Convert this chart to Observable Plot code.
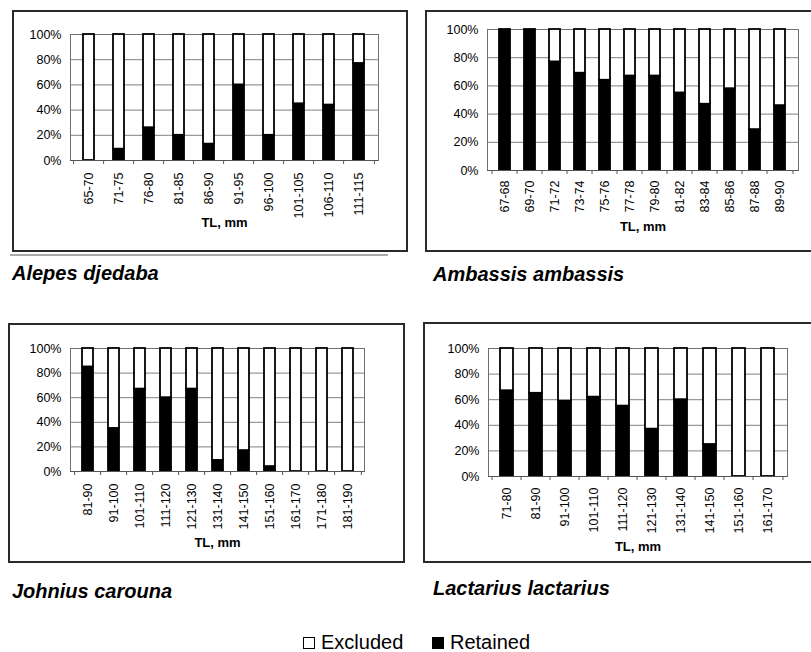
<!DOCTYPE html>
<html>
<head>
<meta charset="utf-8">
<script src="https://cdn.jsdelivr.net/npm/d3@7"></script>
<script src="https://cdn.jsdelivr.net/npm/@observablehq/plot@0.6"></script>
<style>
  html, body { margin: 0; padding: 0; background: #fff; }
  #root { position: relative; width: 811px; height: 652px; overflow: hidden; font-family: "Liberation Sans", Arial, sans-serif; color: #000; }
  .box { position: absolute; border: 2px solid #2a2a2a; box-sizing: border-box; }
  .plot { position: absolute; }
  .title { position: absolute; font-size: 20px; line-height: 20px; font-weight: bold; font-style: italic; white-space: nowrap; }
  .legend { position: absolute; top: 632px; left: 0; width: 811px; height: 22px; font-size: 20px; line-height: 20px; white-space: nowrap; }
  .legend span.item { position: absolute; top: 0; }
  .sw { display: inline-block; width: 12px; height: 12px; box-sizing: border-box; border: 1.5px solid #000; margin-right: 6px; vertical-align: 0px; }
</style>
</head>
<body>
<div id="root"></div>
<script>
// ---------- data ----------
const statuses = ["Excluded", "Retained"];
const axisTitle = "TL, mm";
const pctTicks = [0, 20, 40, 60, 80, 100];

const alepesSizes = ["65-70","71-75","76-80","81-85","86-90","91-95","96-100","101-105","106-110","111-115"];
const alepesRetained = [0, 9, 26, 20, 13, 60, 20, 45, 44, 77];

const ambassisSizes = ["67-68","69-70","71-72","73-74","75-76","77-78","79-80","81-82","83-84","85-86","87-88","89-90"];
const ambassisRetained = [100, 100, 77, 69, 64, 67, 67, 55, 47, 58, 29, 46];

const johniusSizes = ["81-90","91-100","101-110","111-120","121-130","131-140","141-150","151-160","161-170","171-180","181-190"];
const johniusRetained = [85, 35, 67, 60, 67, 9, 17, 4, 0, 0, 0];

const lactariusSizes = ["71-80","81-90","91-100","101-110","111-120","121-130","131-140","141-150","151-160","161-170"];
const lactariusRetained = [67, 65, 59, 62, 55, 37, 60, 25, 0, 0];

// ---------- drawing ----------
const root = document.getElementById("root");

function rowsOf(sizes, retained) {
  const rows = [];
  sizes.forEach((s, i) => {
    rows.push({size: s, status: "Retained", pct: retained[i]});
    rows.push({size: s, status: "Excluded", pct: 100 - retained[i]});
  });
  return rows;
}

function panel(cfg) {
  const box = document.createElement("div");
  box.className = "box";
  Object.assign(box.style, {left: cfg.left + "px", top: cfg.top + "px", width: (cfg.boxWidth || cfg.width) + "px", height: cfg.height + "px"});
  root.appendChild(box);

  const n = cfg.sizes.length;
  const step = (cfg.width - cfg.mL - cfg.mR) / n;
  const last = cfg.sizes[n - 1];

  const chart = Plot.plot({
    width: cfg.width,
    height: cfg.height,
    marginLeft: cfg.mL, marginRight: cfg.mR, marginTop: cfg.mT, marginBottom: cfg.mB,
    style: {fontFamily: '"Liberation Sans", Arial, sans-serif', fontSize: "12.5px", color: "#000", background: "transparent", overflow: "visible"},
    x: {domain: cfg.sizes, paddingInner: cfg.pad, paddingOuter: cfg.pad / 2, axis: null},
    y: {domain: [0, 100], axis: null},
    color: {domain: statuses, range: ["#ffffff", "#000000"]},
    marks: [
      Plot.gridY(pctTicks.slice(1), {stroke: "#808080", strokeOpacity: 1, strokeWidth: 1}),
      Plot.frame({stroke: "#707070", strokeWidth: 1}),
      Plot.barY(rowsOf(cfg.sizes, cfg.retained), {x: "size", y: "pct", fill: "status", stroke: "#000", strokeWidth: 1.8, order: ["Retained", "Excluded"]}),
      Plot.ruleY([0], {stroke: "#555", strokeWidth: 1}),
      Plot.axisY(pctTicks, {tickSize: 0, tickPadding: 9, tickFormat: d => d + "%", fontSize: 12.5, label: null}),
      Plot.axisX(cfg.sizes, {tickSize: 0, tickRotate: -90, tickPadding: cfg.xPad, fontSize: 12.5, label: null}),
      Plot.axisX(cfg.sizes, {tickSize: 4, tickFormat: () => "", dx: -step / 2, stroke: "#555", label: null}),
      Plot.axisX([last], {tickSize: 4, tickFormat: () => "", dx: step / 2, stroke: "#555", label: null}),
      Plot.text([axisTitle], {frameAnchor: "bottom", dy: cfg.tlOffset, fontWeight: "bold", fontSize: 13})
    ]
  });
  chart.classList.add("plot");
  Object.assign(chart.style, {left: cfg.left + "px", top: cfg.top + "px"});
  root.appendChild(chart);

  const t = document.createElement("div");
  t.className = "title";
  t.textContent = cfg.title;
  Object.assign(t.style, {left: cfg.titleLeft + "px", top: cfg.titleTop + "px"});
  root.appendChild(t);
}

panel({sizes: alepesSizes, retained: alepesRetained, title: "Alepes djedaba",
  left: 12, top: 10, width: 396, height: 242, mL: 58, mR: 30, mT: 24, mB: 92,
  pad: 0.62, xPad: 12, tlOffset: 66, titleLeft: 12, titleTop: 263});

panel({sizes: ambassisSizes, retained: ambassisRetained, title: "Ambassis ambassis",
  left: 425, top: 10, width: 390, boxWidth: 420, height: 242, mL: 62, mR: 17, mT: 19, mB: 82,
  pad: 0.55, xPad: 10, tlOffset: 60, titleLeft: 433, titleTop: 264});

panel({sizes: johniusSizes, retained: johniusRetained, title: "Johnius carouna",
  left: 8, top: 323, width: 397, height: 240, mL: 62, mR: 41, mT: 25, mB: 92,
  pad: 0.58, xPad: 12, tlOffset: 75, titleLeft: 12, titleTop: 581});

panel({sizes: lactariusSizes, retained: lactariusRetained, title: "Lactarius lactarius",
  left: 423, top: 322, width: 392, boxWidth: 420, height: 241, mL: 65, mR: 28, mT: 26, mB: 87,
  pad: 0.55, xPad: 11, tlOffset: 74, titleLeft: 433, titleTop: 578});

// separator line under first panel
const sep = document.createElement("div");
Object.assign(sep.style, {position: "absolute", left: "10px", top: "254px", width: "378px", height: "1.5px", background: "#aaa"});
root.appendChild(sep);

// legend
const legend = document.createElement("div");
legend.className = "legend";
const items = [
  {label: "Excluded", fill: "#fff", left: 303},
  {label: "Retained", fill: "#000", left: 432}
];
items.forEach(it => {
  const s = document.createElement("span");
  s.className = "item";
  s.style.left = it.left + "px";
  const sw = document.createElement("span");
  sw.className = "sw";
  sw.style.background = it.fill;
  s.appendChild(sw);
  s.appendChild(document.createTextNode(it.label));
  legend.appendChild(s);
});
root.appendChild(legend);
</script>
</body>
</html>
